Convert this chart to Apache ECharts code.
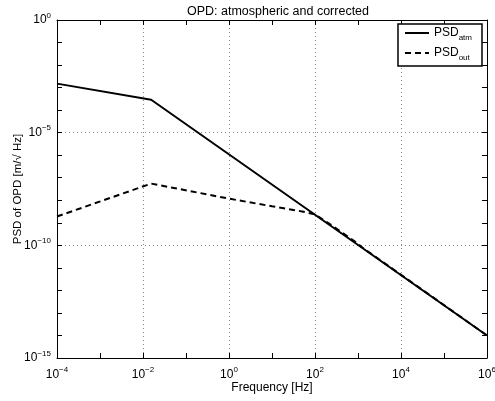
<!DOCTYPE html>
<html>
<head>
<meta charset="utf-8">
<script src="https://cdn.jsdelivr.net/npm/echarts@6/dist/echarts.min.js"></script>
<style>html,body{margin:0;padding:0;background:#fff}#c{width:495px;height:401px}</style>
</head>
<body>
<div id="c"></div>
<script>
// Data: [frequency Hz, PSD]
var atmFreq = [1e-4, 0.0155, 1e6];
var atmPsd  = [1.5e-3, 2.9e-4, 1.0e-14];
var outFreq = [1e-4, 0.0155, 1, 10, 50, 100, 200, 400, 800, 1260, 1e6];
var outPsd  = [1.9e-9, 5.5e-8, 1.18e-8, 5.4e-9, 3.2e-9, 2.35e-9, 1.0e-9, 4.0e-10, 1.6e-10, 8.0e-11, 1.0e-14];
var xTickExps = [-4, -2, 0, 2, 4, 6];
var yTickExps = [0, -5, -10, -15];
var titleText = 'OPD: atmospheric and corrected';
var xName = 'Frequency [Hz]';
var yName = 'PSD of OPD [m/\u221A Hz]';

function zip(a, b) { return a.map(function (v, i) { return [v, b[i]]; }); }
var FONT = 'Liberation Sans, Arial, Helvetica, sans-serif';
var richPow = {
  b: { fontSize: 12, fontFamily: FONT, color: '#000' },
  e: { fontSize: 8, fontFamily: FONT, color: '#000', verticalAlign: 'top', padding: [0, 0, 9, 0] }
};
function powFmt(list) {
  return function (v) {
    var e = Math.round(Math.log10(v));
    if (list.indexOf(e) < 0) return '';
    return '{b|10}{e|' + String(e).replace('-', '\u2212') + '}';
  };
}
var chart = echarts.init(document.getElementById('c'));
var grid = { left: 57, right: 8, top: 20, bottom: 43, containLabel: false, outerBoundsMode: 'none' };
var blackLine = { show: true, lineStyle: { color: '#000', width: 1 } };
var tickIn = { show: true, inside: true, length: 5, lineStyle: { color: '#000', width: 1 } };
chart.setOption({
  animation: false,
  backgroundColor: '#fff',
  title: { text: titleText, left: 273, top: 0, textAlign: 'center',
    textStyle: { fontSize: 12.5, fontWeight: 'normal', fontFamily: FONT, color: '#000' } },
  grid: grid,
  legend: {
    right: 13, top: 24, orient: 'vertical',
    backgroundColor: '#fff', borderColor: '#000', borderWidth: 1.5, borderRadius: 0,
    padding: [3, 10, 4, 6], itemGap: 5, itemWidth: 24, itemHeight: 10,
    itemStyle: { color: 'transparent', borderWidth: 0, opacity: 0 },
    data: [{ name: 'atm' }, { name: 'out' }],
    formatter: function (n) { return '{p|PSD}{s|' + n + '}'; },
    textStyle: {
      rich: {
        p: { fontSize: 12, fontFamily: FONT, color: '#000' },
        s: { fontSize: 8, fontFamily: FONT, color: '#000', padding: [10, 0, 0, 0] }
      }
    }
  },
  xAxis: [
    { type: 'log', logBase: 10, min: 1e-4, max: 1e6, interval: 1, position: 'bottom',
      axisLine: blackLine, axisTick: tickIn, splitLine: { show: false },
      axisLabel: { show: true, formatter: powFmt(xTickExps), rich: richPow, margin: 8, showMinLabel: true, showMaxLabel: true },
      name: xName, nameLocation: 'middle', nameGap: 24, nameMoveOverlap: false,
      nameTextStyle: { fontSize: 12, fontFamily: FONT, color: '#000' } },
    { type: 'log', logBase: 10, min: 1e-4, max: 1e6, interval: 1, position: 'top',
      axisLine: blackLine, axisTick: tickIn, axisLabel: { show: false }, splitLine: { show: false } },
    { type: 'log', logBase: 10, min: 1e-4, max: 1e6, interval: 2, position: 'bottom',
      axisLine: { show: false }, axisTick: { show: false }, axisLabel: { show: false },
      splitLine: { show: true, lineStyle: { color: '#888', width: 1, type: [1, 3] } } }
  ],
  yAxis: [
    { type: 'log', logBase: 10, min: 1e-15, max: 1, interval: 1, position: 'left',
      axisLine: blackLine, axisTick: tickIn, splitLine: { show: false },
      axisLabel: { show: true, formatter: powFmt(yTickExps), rich: richPow, margin: 6, showMinLabel: true, showMaxLabel: true },
      name: yName, nameLocation: 'middle', nameGap: 33, nameMoveOverlap: false,
      nameTextStyle: { fontSize: 11.5, fontFamily: FONT, color: '#000' } },
    { type: 'log', logBase: 10, min: 1e-15, max: 1, interval: 1, position: 'right',
      axisLine: blackLine, axisTick: tickIn, axisLabel: { show: false }, splitLine: { show: false } },
    { type: 'log', logBase: 10, min: 1e-15, max: 1, interval: 5, position: 'left',
      axisLine: { show: false }, axisTick: { show: false }, axisLabel: { show: false },
      splitLine: { show: true, lineStyle: { color: '#888', width: 1, type: [1, 3] } } }
  ],
  series: [
    { name: 'atm', type: 'line', data: zip(atmFreq, atmPsd), xAxisIndex: 0, yAxisIndex: 0,
      showSymbol: false, symbol: 'none', lineStyle: { color: '#000', width: 2 }, itemStyle: { color: '#000' }, z: 3 },
    { name: 'out', type: 'line', data: zip(outFreq, outPsd), xAxisIndex: 0, yAxisIndex: 0,
      showSymbol: false, symbol: 'none', lineStyle: { color: '#000', width: 2, type: [6, 4] }, itemStyle: { color: '#000' }, z: 3 }
  ]
});
</script>
</body>
</html>
